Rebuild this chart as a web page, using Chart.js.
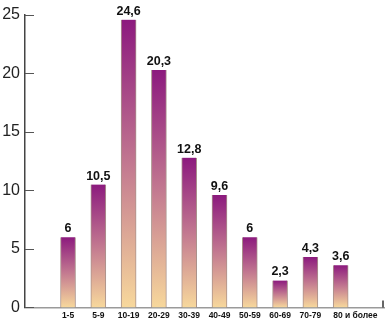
<!DOCTYPE html>
<html>
<head>
<meta charset="utf-8">
<script src="https://cdn.jsdelivr.net/npm/chart.js@4/dist/chart.umd.min.js"></script>
<style>
  html, body { margin: 0; padding: 0; background: #fff; }
  #wrap { width: 385px; height: 322px; position: relative; }
</style>
</head>
<body>
<div id="wrap"><canvas id="chart"></canvas></div>
<script>
// age groups and share per group, %
const ageGroups = ['1-5', '5-9', '10-19', '20-29', '30-39', '40-49', '50-59', '60-69', '70-79', '80 и более'];
const shares    = [6, 10.5, 24.6, 20.3, 12.8, 9.6, 6, 2.3, 4.3, 3.6];
const yTicks    = [0, 5, 10, 15, 20, 25];

const FONT = '"Liberation Sans", Arial, sans-serif';

// vertical purple -> peach gradient, stretched over each bar
function barFill(ctx) {
  const chart = ctx.chart;
  const y = chart.scales.y;
  if (!y || !ctx.parsed) return '#b0608a';
  const top = y.getPixelForValue(ctx.parsed.y);
  const bot = y.getPixelForValue(0);
  if (!isFinite(top) || !isFinite(bot) || top === bot) return '#b0608a';
  const g = chart.ctx.createLinearGradient(0, top, 0, bot);
  g.addColorStop(0, '#8c1a7e');
  g.addColorStop(0.5, '#c27890');
  g.addColorStop(1, '#f7d89c');
  return g;
}

// value labels, category names, inward y ticks, end tick on the x axis
const decor = {
  id: 'decor',
  afterDatasetsDraw(chart) {
    const { ctx, chartArea, scales } = chart;
    const bars = chart.getDatasetMeta(0).data;
    ctx.save();

    // small ticks pointing into the plot
    ctx.strokeStyle = '#555';
    ctx.lineWidth = 1;
    yTicks.forEach(v => {
      const py = Math.round(scales.y.getPixelForValue(v)) + 0.5;
      ctx.beginPath();
      ctx.moveTo(chartArea.left, py);
      ctx.lineTo(chartArea.left + 9, py);
      ctx.stroke();
    });

    // closing tick at the right end of the x axis
    ctx.strokeStyle = '#333';
    ctx.lineWidth = 1.5;
    ctx.beginPath();
    ctx.moveTo(chartArea.right - 1, chartArea.bottom);
    ctx.lineTo(chartArea.right - 1, chartArea.bottom - 7);
    ctx.stroke();

    // numbers above the bars
    ctx.fillStyle = '#111';
    ctx.font = 'bold 12.5px ' + FONT;
    ctx.textAlign = 'center';
    ctx.textBaseline = 'alphabetic';
    bars.forEach((bar, i) => {
      const txt = String(shares[i]).replace('.', ',');
      ctx.fillText(txt, bar.x, bar.y - 5);
    });

    // age group names under the axis; the long last one starts at its bar
    ctx.font = 'bold 8.5px ' + FONT;
    ctx.textBaseline = 'top';
    bars.forEach((bar, i) => {
      const last = i === ageGroups.length - 1;
      ctx.textAlign = last ? 'left' : 'center';
      const x = last ? bar.x - bar.width / 2 : bar.x;
      ctx.fillText(ageGroups[i], x, chartArea.bottom + 4.5);
    });
    ctx.restore();
  }
};

new Chart(document.getElementById('chart'), {
  type: 'bar',
  data: {
    datasets: [{
      data: shares.map((v, i) => ({ x: i, y: v })),
      backgroundColor: barFill,
      borderColor: 'rgba(140,110,100,0.75)',
      borderWidth: { left: 1, right: 1, top: 0, bottom: 0 },
      barThickness: 15
    }]
  },
  options: {
    responsive: true,
    maintainAspectRatio: false,
    animation: false,
    layout: { autoPadding: false, padding: { top: 15, right: 1, left: 0, bottom: 0 } },
    plugins: { legend: { display: false }, tooltip: { enabled: false } },
    scales: {
      x: {
        type: 'linear',
        offset: false,
        min: -1.42,
        max: 10.43,
        afterBuildTicks: s => { s.ticks = ageGroups.map((_, i) => ({ value: i })); },
        afterFit: s => { s.height = 12; },
        grid: { display: false, drawTicks: false, offset: false },
        border: { display: true, color: '#9a9a9a', width: 1.5 },
        ticks: { display: false }
      },
      y: {
        min: 0,
        max: 25,
        afterBuildTicks: s => { s.ticks = yTicks.map(v => ({ value: v })); },
        afterFit: s => { s.width = 25; },
        grid: { display: false, drawTicks: false },
        border: { display: true, color: '#444', width: 1.5 },
        ticks: {
          padding: 5,
          color: '#222',
          font: { family: FONT, size: 16 }
        }
      }
    }
  },
  plugins: [decor]
});
</script>
</body>
</html>
